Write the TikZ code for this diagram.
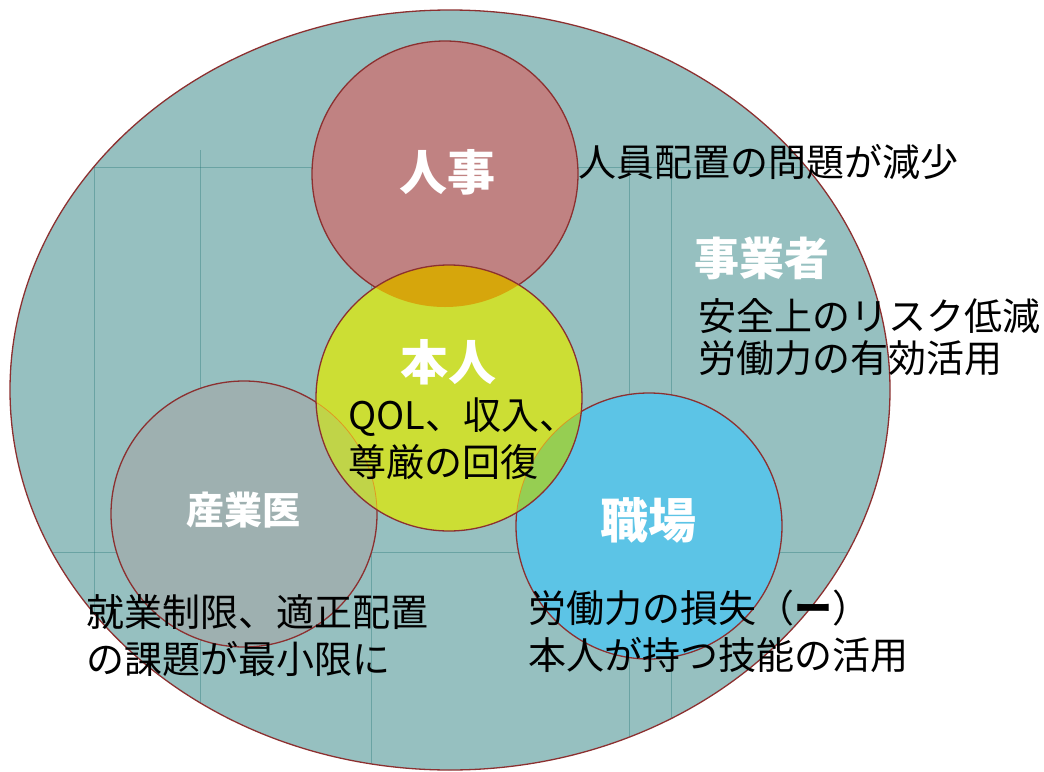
\documentclass[tikz,border=0pt]{standalone}
\usepackage{fontspec}
\setmainfont{Noto Sans CJK JP}
\usepackage{xcolor}

\definecolor{outercol}{RGB}{150,192,192}
\definecolor{jinjicol}{RGB}{192,130,130}
\definecolor{sangyocol}{RGB}{158,176,176}
\definecolor{shokubacol}{RGB}{92,196,230}
\definecolor{honnincol}{RGB}{204,222,52}
\definecolor{goldcol}{RGB}{214,166,12}
\definecolor{greencol}{RGB}{150,206,82}
\definecolor{mixcol}{RGB}{192,212,72}
\definecolor{ringred}{RGB}{140,48,48}
\definecolor{gridteal}{RGB}{40,120,120}

\begin{document}
\begin{tikzpicture}[x=1pt,y=-1pt,
    ring/.style={draw=ringred, line width=1.3pt},
    innerarc/.style={draw=orange!70!brown, line width=0.8pt, opacity=0.7},
    gridline/.style={draw=gridteal, line width=0.6pt, opacity=0.4},
    title/.style={text=white, font=\bfseries\fontsize{48}{50}\selectfont, inner sep=0pt},
    note/.style={text=black, font=\fontsize{38}{47}\selectfont, align=left, inner sep=0pt, anchor=west}]

    \useasboundingbox (0,0) rectangle (1044,771);

    % centres
    \coordinate (jinji) at (445,174);
    \coordinate (honnin) at (449,398);
    \coordinate (sangyoui) at (244,514);
    \coordinate (shokuba) at (649,526);

    % employer
    \fill[outercol] (450,390) ellipse [x radius=440pt, y radius=380pt];
    \begin{scope}
        \clip (450,390) ellipse [x radius=440pt, y radius=380pt];
        \foreach \gx in {94,200,371,629,671}
            \draw[gridline] (\gx,150) -- (\gx,771);
        \foreach \gy in {167,552}
            \draw[gridline] (10,\gy) -- (890,\gy);
    \end{scope}
    \draw[ring] (450,390) ellipse [x radius=440pt, y radius=380pt];

    % circles
    \fill[jinjicol] (jinji) circle [radius=133pt];
    \fill[sangyocol] (sangyoui) circle [radius=133pt];
    \fill[shokubacol] (shokuba) circle [radius=133pt];
    \draw[ring] (jinji) circle [radius=133pt];
    \draw[ring] (sangyoui) circle [radius=133pt];
    \draw[ring] (shokuba) circle [radius=133pt];

    \fill[honnincol] (honnin) circle [radius=133pt];
    \begin{scope}
        \clip (honnin) circle [radius=133pt];
        \fill[goldcol] (jinji) circle [radius=133pt];
        \fill[greencol] (shokuba) circle [radius=133pt];
        \fill[mixcol] (sangyoui) circle [radius=133pt];
        \draw[innerarc] (sangyoui) circle [radius=133pt];
        \draw[innerarc] (shokuba) circle [radius=133pt];
    \end{scope}
    \draw[ring] (honnin) circle [radius=133pt];

    % labels
    \node[title] (jinjilabel) at (447,172) {人事};
    \node[note] (jinjinote) at (578,162) {人員配置の問題が減少};

    \node[title, anchor=west, font=\bfseries\fontsize{45}{47}\selectfont] (employerlabel) at (694,258) {事業者};
    \node[note, font=\fontsize{38}{42}\selectfont] (employernote) at (698,337) {安全上のリスク低減\\労働力の有効活用};

    \node[title] (honninlabel) at (448,362) {本人};
    \node[note] (honninnote) at (348,439) {QOL、収入、\\尊厳の回復};

    \node[title, font=\bfseries\fontsize{38}{40}\selectfont] (sangyouilabel) at (243,510) {産業医};
    \node[note] (sangyouinote) at (86,636) {就業制限、適正配置\\の課題が最小限に};

    \node[title] (shokubalabel) at (648,520) {職場};
    \node[note] (shokubanote) at (528,631) {労働力の損失（{\bfseries ー}）\\本人が持つ技能の活用};

\end{tikzpicture}
\end{document}
